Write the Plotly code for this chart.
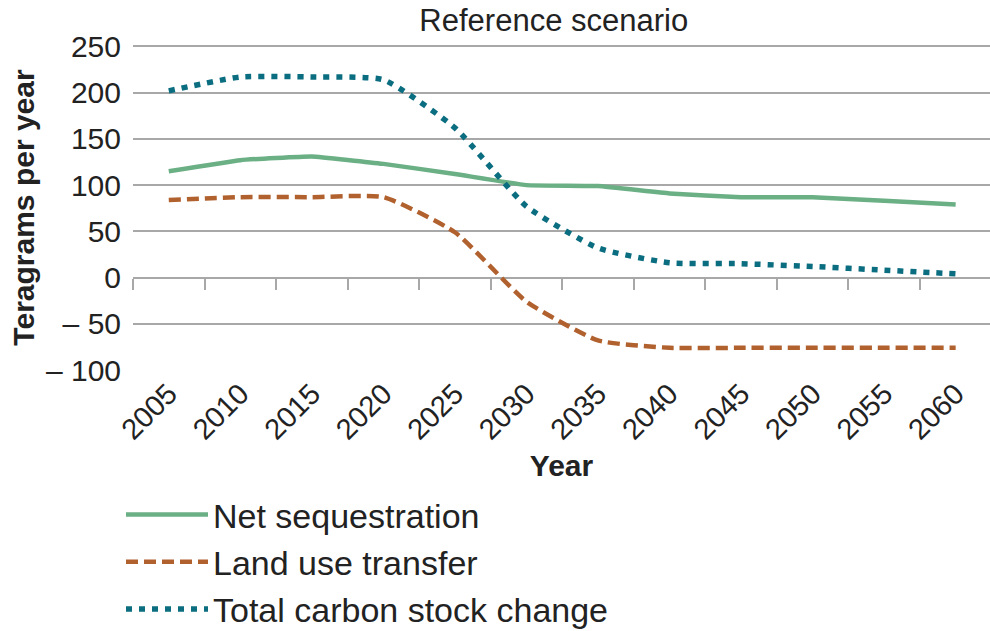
import plotly.graph_objects as go

years = [2005, 2010, 2015, 2020, 2025, 2030, 2035, 2040, 2045, 2050, 2055, 2060]
net_sequestration = [115, 127, 131, 123, 112, 100, 99, 91, 87, 87, 83, 79]
land_use_transfer = [84, 87, 87, 87, 49, -26, -68, -76, -76, -76, -76, -76]
total_stock_change = [202, 217, 217, 214, 162, 77, 32, 16, 15, 12, 8, 4]
y_ticks = [250, 200, 150, 100, 50, 0, -50, -100]
y_tick_text = ["250", "200", "150", "100", "50", "0", "\u2013 50", "\u2013 100"]
boundary_ticks = [2002.5 + 5 * i for i in range(13)]

GREEN = "#6BAF85"
BROWN = "#B1612E"
TEAL = "#0B6D80"
GRID = "#A8A8A8"
FONT = "Liberation Sans"
TXT = "#222222"

fig = go.Figure()
fig.add_trace(go.Scatter(x=years, y=net_sequestration, name="Net sequestration",
                         mode="lines", line=dict(color=GREEN, width=4.5, shape="spline", smoothing=0.3)))
fig.add_trace(go.Scatter(x=years, y=land_use_transfer, name="Land use transfer",
                         mode="lines", line=dict(color=BROWN, width=4.5, dash="12px,6px",
                                                 shape="spline", smoothing=0.5)))
fig.add_trace(go.Scatter(x=years, y=total_stock_change, name="Total carbon stock change",
                         mode="lines", line=dict(color=TEAL, width=5.5, dash="6px,7px",
                                                 shape="spline", smoothing=0.5)))
# invisible helper trace so the zero-crossing tick axis is drawn
fig.add_trace(go.Scatter(x=years, y=net_sequestration, xaxis="x2", mode="lines",
                         line=dict(width=0), opacity=0, showlegend=False, hoverinfo="skip"))

xr = [2002.5, 2062.4]
yr = [-100, 251.6]

fig.update_layout(
    width=990, height=631,
    margin=dict(l=133, r=0, t=45, b=261, autoexpand=False),
    paper_bgcolor="white", plot_bgcolor="white",
    font=dict(family=FONT, color=TXT),
    title=dict(text="Reference scenario", x=0.491, xref="paper", xanchor="center",
               y=0.985, yref="container", yanchor="top",
               font=dict(size=31, family=FONT, color=TXT)),
    xaxis=dict(range=xr, tickmode="array", tickvals=years, ticktext=[str(y) for y in years],
               tickangle=-45, showgrid=False, zeroline=False, showline=False, ticks="",
               tickfont=dict(size=29, family=FONT, color=TXT),
               title=dict(text="<b>Year</b>", font=dict(size=30, family=FONT, color=TXT), standoff=10)),
    xaxis2=dict(range=xr, overlaying="x", anchor="free", position=(0 - yr[0]) / (yr[1] - yr[0]),
                side="bottom", tickmode="array", tickvals=boundary_ticks, ticks="outside",
                ticklen=11, tickwidth=1.5, tickcolor=GRID, showticklabels=False,
                showgrid=False, zeroline=False, showline=False),
    yaxis=dict(range=yr, tickmode="array", tickvals=y_ticks, ticktext=y_tick_text,
               showgrid=True, gridcolor=GRID, gridwidth=1.5, zeroline=False, showline=False,
               ticks="", ticklabelstandoff=11,
               tickfont=dict(size=30, family=FONT, color=TXT),
               title=dict(text="<b>Teragrams per year</b>", font=dict(size=30, family=FONT, color=TXT),
                          standoff=2)),
    legend=dict(orientation="v", x=-0.014, xanchor="left", xref="paper",
                y=(631 - 486) / 631, yref="container", yanchor="top",
                font=dict(size=34, family=FONT, color=TXT), itemwidth=82,
                tracegroupgap=0, bgcolor="rgba(0,0,0,0)"),
    showlegend=True,
)

fig.write_html("out.html", config={"displayModeBar": False},
               post_script="document.body.style.margin='0';")
